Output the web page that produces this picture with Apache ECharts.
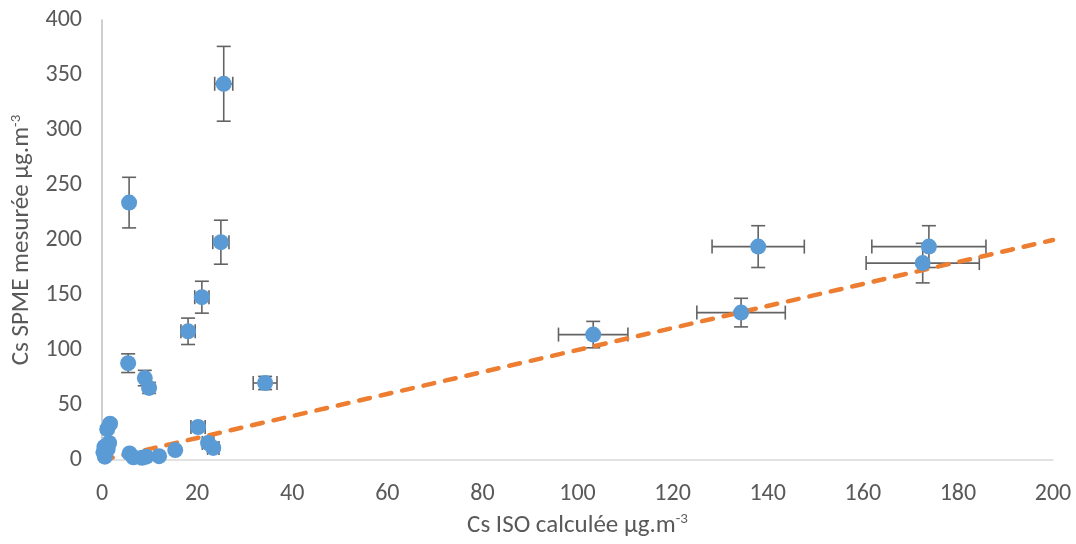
<!DOCTYPE html>
<html>
<head>
<meta charset="utf-8">
<script src="https://cdn.jsdelivr.net/npm/echarts@6/dist/echarts.min.js"></script>
<style>
  html, body { margin: 0; padding: 0; background: #ffffff; }
  #chart { width: 1076px; height: 544px; }
</style>
</head>
<body>
<div id="chart"></div>
<script>
// Calculated (ISO) vs measured (SPME) concentrations, with uncertainties
const isoX  = [5.7, 25.6, 25.0, 21.0, 18.1, 5.5, 9.0, 9.9, 34.3, 103.3, 134.4, 138.0, 173.9, 172.6,
               20.2, 22.3, 23.4, 15.4, 12.0, 9.3, 8.4, 6.6, 5.8, 1.7, 1.1, 1.5, 0.5, 0.3, 0.6, 1.2];
const spmeY = [234, 342, 198, 148, 117, 88, 74.5, 65.5, 70, 114, 134, 194, 194, 179,
               30, 15.5, 11, 9, 3.5, 3, 2, 2.5, 6, 33, 28, 15.5, 12, 7, 3, 10];
const errX  = [0.6, 1.9, 1.7, 1.5, 1.5, 0.6, 0.6, 0.6, 2.5, 7.3, 9.3, 9.7, 12.0, 11.9,
               1.5, 1.2, 1.2, 0.5, 0.4, 0.3, 0.3, 0.3, 0.3, 0.1, 0.1, 0.1, 0.1, 0.1, 0.1, 0.1];
const errY  = [23, 34, 20, 14.5, 12, 8.5, 7, 5, 6, 12, 13, 19, 19, 18,
               3, 2, 1.5, 1, 0.5, 0.4, 0.3, 0.3, 0.6, 3, 3, 1.5, 1.2, 0.8, 0.3, 1];
// 1:1 reference line
const refLine = [[0, 0], [200, 200]];

const xTicks = [0, 20, 40, 60, 80, 100, 120, 140, 160, 180, 200];
const yTicks = [0, 50, 100, 150, 200, 250, 300, 350, 400];

const points = isoX.map((x, i) => [x, spmeY[i]]);
const bars = isoX.map((x, i) => [x, spmeY[i], errX[i], errY[i]]);

const FONT = 'Carlito, Lato, "Open Sans", sans-serif';
const TEXT = '#595959';
const BAR = '#636363';
const CAP = 7;

function renderErrorBar(params, api) {
  const x = api.value(0), y = api.value(1), ex = api.value(2), ey = api.value(3);
  const c = api.coord([x, y]);
  const top = api.coord([x, y + ey]);
  const bot = api.coord([x, y - ey]);
  const lft = api.coord([x - ex, y]);
  const rgt = api.coord([x + ex, y]);
  const style = { stroke: BAR, lineWidth: 1.6, fill: null };
  const seg = (x1, y1, x2, y2) => ({ type: 'line', shape: { x1, y1, x2, y2 }, style });
  return {
    type: 'group',
    children: [
      seg(c[0], top[1], c[0], bot[1]),
      seg(c[0] - CAP, top[1], c[0] + CAP, top[1]),
      seg(c[0] - CAP, bot[1], c[0] + CAP, bot[1]),
      seg(lft[0], c[1], rgt[0], c[1]),
      seg(lft[0], c[1] - CAP, lft[0], c[1] + CAP),
      seg(rgt[0], c[1] - CAP, rgt[0], c[1] + CAP)
    ]
  };
}

const nameStyle = {
  fontFamily: FONT, fontSize: 25, color: TEXT,
  rich: { sup: { fontFamily: FONT, fontSize: 15, color: TEXT, padding: [0, 0, 12, 0] } }
};

const chart = echarts.init(document.getElementById('chart'), null, { renderer: 'canvas' });
chart.setOption({
  animation: false,
  backgroundColor: '#ffffff',
  grid: { left: 102, right: 23, top: 20, bottom: 84, containLabel: false },
  xAxis: {
    type: 'value',
    min: xTicks[0],
    max: xTicks[xTicks.length - 1],
    interval: xTicks[1] - xTicks[0],
    name: 'Cs ISO calculée µg.m{sup|-3}',
    nameLocation: 'middle',
    nameGap: 52,
    nameTextStyle: nameStyle,
    axisLine: { show: true, lineStyle: { color: '#D9D9D9', width: 1.5 } },
    axisTick: { show: false },
    splitLine: { show: false },
    axisLabel: { fontFamily: FONT, fontSize: 24, color: TEXT, margin: 22 }
  },
  yAxis: {
    type: 'value',
    min: yTicks[0],
    max: yTicks[yTicks.length - 1],
    interval: yTicks[1] - yTicks[0],
    name: 'Cs SPME mesurée µg.m{sup|-3}',
    nameLocation: 'middle',
    nameRotate: 90,
    nameGap: 65,
    nameTextStyle: nameStyle,
    axisLine: { show: true, lineStyle: { color: '#BFBFBF', width: 1.5 } },
    axisTick: { show: false },
    splitLine: { show: false },
    axisLabel: { fontFamily: FONT, fontSize: 24, color: TEXT, margin: 20 }
  },
  series: [
    {
      type: 'custom',
      name: 'incertitudes',
      renderItem: renderErrorBar,
      data: bars,
      encode: { x: 0, y: 1 },
      z: 1,
      silent: true
    },
    {
      type: 'line',
      name: 'y = x',
      data: refLine,
      showSymbol: false,
      symbol: 'none',
      lineStyle: { color: '#ED7D31', width: 4.5, type: [11, 11], cap: 'round' },
      z: 2,
      silent: true
    },
    {
      type: 'scatter',
      name: 'Cs',
      data: points,
      symbol: 'circle',
      symbolSize: 16,
      itemStyle: { color: '#5B9BD5', opacity: 1 },
      z: 3
    }
  ]
});
</script>
</body>
</html>
